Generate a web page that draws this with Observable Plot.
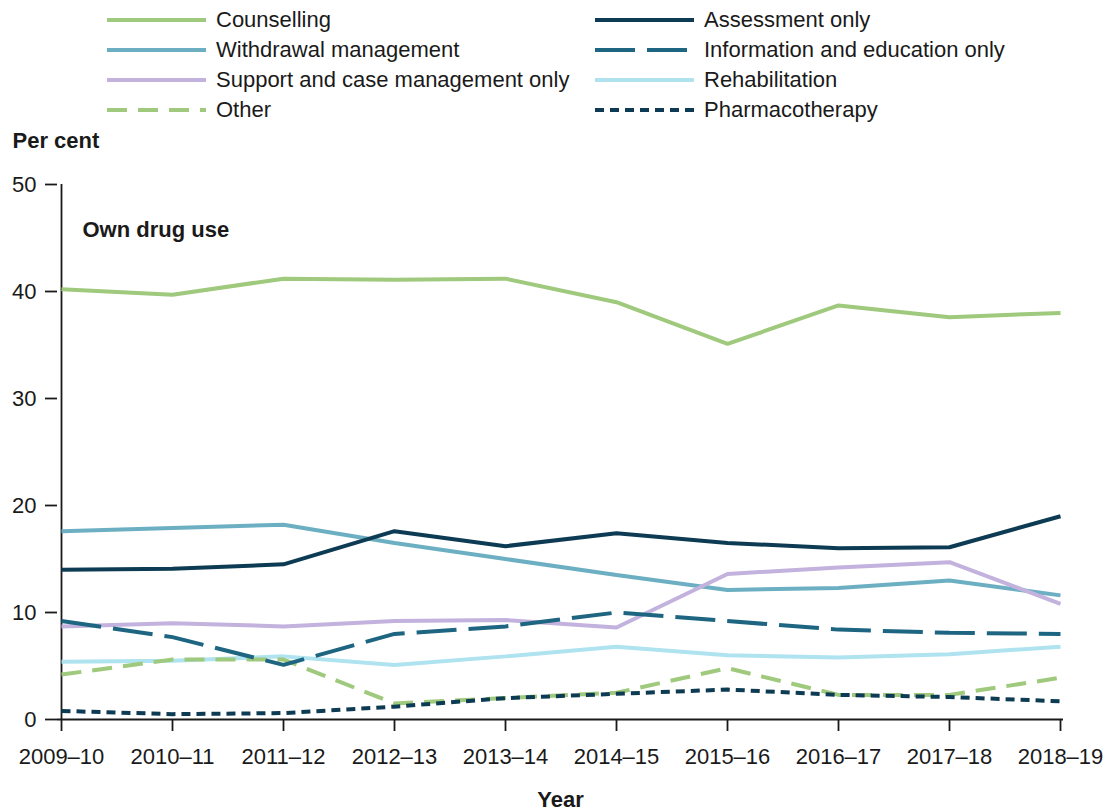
<!DOCTYPE html>
<html>
<head>
<meta charset="utf-8">
<script src="https://cdn.jsdelivr.net/npm/d3@7"></script>
<script src="https://cdn.jsdelivr.net/npm/@observablehq/plot@0.6"></script>
<style>
  html, body { margin: 0; padding: 0; background: #ffffff; }
  body { width: 1115px; height: 812px; overflow: hidden; font-family: "Liberation Sans", Arial, sans-serif; color: #1a1a1a; }
  #legend { position: relative; width: 1115px; height: 125px; }
  .item { position: absolute; display: flex; align-items: center; height: 30px; font-size: 22px; white-space: nowrap; }
  .item svg { margin-right: 10px; }
</style>
</head>
<body>
<div id="legend"></div>
<div id="chart"></div>
<script>
// ---- data ----
const years = ["2009–10", "2010–11", "2011–12", "2012–13", "2013–14", "2014–15", "2015–16", "2016–17", "2017–18", "2018–19"];
const yTicks = [0, 10, 20, 30, 40, 50];

const counselling     = [40.2, 39.7, 41.2, 41.1, 41.2, 39.0, 35.1, 38.7, 37.6, 38.0];
const withdrawal      = [17.6, 17.9, 18.2, 16.5, 15.0, 13.5, 12.1, 12.3, 13.0, 11.6];
const support         = [8.7, 9.0, 8.7, 9.2, 9.3, 8.6, 13.6, 14.2, 14.7, 10.8];
const other           = [4.2, 5.6, 5.6, 1.5, 2.0, 2.5, 4.8, 2.3, 2.3, 3.9];
const assessment      = [14.0, 14.1, 14.5, 17.6, 16.2, 17.4, 16.5, 16.0, 16.1, 19.0];
const information     = [9.2, 7.7, 5.1, 8.0, 8.7, 10.0, 9.2, 8.4, 8.1, 8.0];
const rehabilitation  = [5.4, 5.5, 5.9, 5.1, 5.9, 6.8, 6.0, 5.8, 6.1, 6.8];
const pharmacotherapy = [0.8, 0.5, 0.6, 1.2, 2.0, 2.4, 2.8, 2.3, 2.1, 1.7];

const seriesNames = ["Counselling", "Withdrawal management", "Support and case management only", "Other",
                     "Assessment only", "Information and education only", "Rehabilitation", "Pharmacotherapy"];
const seriesValues = [counselling, withdrawal, support, other, assessment, information, rehabilitation, pharmacotherapy];

// ---- styles ----
const styles = {
  "Counselling":                     {stroke: "#9fc97c", dash: null},
  "Withdrawal management":           {stroke: "#6cafc3", dash: null},
  "Support and case management only":{stroke: "#c3b2dd", dash: null},
  "Other":                           {stroke: "#9fc97c", dash: "20,11"},
  "Assessment only":                 {stroke: "#0d3b53", dash: null},
  "Information and education only":  {stroke: "#1d6581", dash: "40,12"},
  "Rehabilitation":                  {stroke: "#aee3ef", dash: null},
  "Pharmacotherapy":                 {stroke: "#0d3b53", dash: "9,6"}
};
const drawOrder = ["Counselling", "Withdrawal management", "Rehabilitation", "Support and case management only",
                   "Other", "Information and education only", "Assessment only", "Pharmacotherapy"];

// ---- legend ----
const legend = document.getElementById("legend");
seriesNames.forEach((name, i) => {
  const col = Math.floor(i / 4), row = i % 4;
  const div = document.createElement("div");
  div.className = "item";
  div.style.left = (col === 0 ? 107 : 595) + "px";
  div.style.top = (5 + row * 30) + "px";
  const st = styles[name];
  div.innerHTML = `<svg width="99" height="8"><line x1="0" y1="4" x2="99" y2="4" stroke="${st.stroke}" stroke-width="4" ${st.dash ? `stroke-dasharray="${st.dash}"` : ""}/></svg><span>${name}</span>`;
  legend.appendChild(div);
});

// ---- chart ----
const tidy = (arr) => years.map((yr, i) => ({year: yr, value: arr[i]}));
const lineMarks = drawOrder.map(name => {
  const st = styles[name];
  const idx = seriesNames.indexOf(name);
  return Plot.line(tidy(seriesValues[idx]), {
    x: "year", y: "value", stroke: st.stroke, strokeWidth: 4,
    strokeDasharray: st.dash || undefined, strokeLinecap: "butt", strokeLinejoin: "miter"
  });
});

const chart = Plot.plot({
  width: 1115,
  height: 687,
  marginTop: 59,
  marginBottom: 93,
  marginLeft: 57,
  marginRight: 52,
  x: {type: "point", domain: years, padding: 0},
  y: {domain: [0, 50]},
  style: {fontFamily: "'Liberation Sans', Arial, sans-serif", fontSize: "22px", color: "#1a1a1a", background: "#ffffff"},
  marks: [
    Plot.axisY({ticks: yTicks, tickSize: 12, tickPadding: 9, label: null, fontSize: 22, stroke: "#1a1a1a", strokeWidth: 1.8}),
    Plot.axisX({tickSize: 12, tickPadding: 17, label: null, fontSize: 22, stroke: "#1a1a1a", strokeWidth: 1.8}),
    Plot.ruleX([years[0]], {stroke: "#1a1a1a", strokeWidth: 1.8}),
    Plot.ruleY([0], {stroke: "#1a1a1a", strokeWidth: 1.8}),
    ...lineMarks,
    Plot.text(["Per cent"], {frameAnchor: "top-left", dx: -45, dy: -52, textAnchor: "start", fontWeight: "bold", fontSize: 22, fill: "#1a1a1a"}),
    Plot.text(["Own drug use"], {frameAnchor: "top-left", dx: 25, dy: 37, textAnchor: "start", fontWeight: "bold", fontSize: 22, fill: "#1a1a1a"}),
    Plot.text(["Year"], {frameAnchor: "bottom", dx: 0, dy: 87, fontWeight: "bold", fontSize: 22, fill: "#1a1a1a"})
  ]
});
document.getElementById("chart").appendChild(chart);
</script>
</body>
</html>
